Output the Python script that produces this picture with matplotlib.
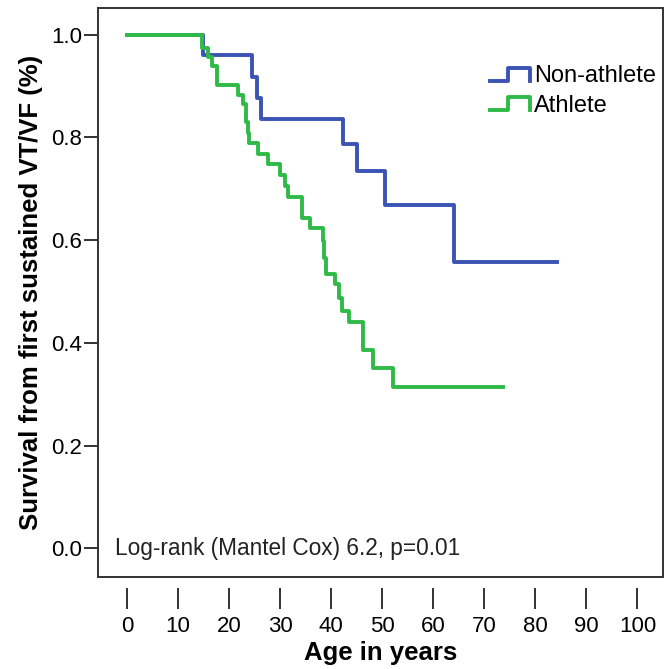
import matplotlib.pyplot as plt
from matplotlib.legend_handler import HandlerBase
from matplotlib.lines import Line2D

plt.rcParams['font.family'] = ['Liberation Sans', 'DejaVu Sans']

# Kaplan-Meier steps (age in years, survival)
nonath_t = [0, 15.0, 24.5, 25.5, 26.3, 42.3, 45.1, 50.6, 64.1, 84.3]
nonath_s = [1.0, 0.961, 0.918, 0.876, 0.836, 0.786, 0.734, 0.668, 0.558, 0.558]

ath_t = [0, 14.7, 15.9, 16.7, 17.6, 21.8, 22.7, 23.3, 23.7, 24.0, 25.7, 27.6,
         30.0, 31.0, 31.6, 34.3, 35.9, 38.4, 38.7, 39.0, 40.8, 41.6, 42.2,
         43.5, 46.3, 48.2, 52.2, 73.7]
ath_s = [1.0, 0.973, 0.957, 0.938, 0.902, 0.883, 0.864, 0.830, 0.808, 0.788,
         0.767, 0.748, 0.727, 0.705, 0.683, 0.643, 0.623, 0.598, 0.566, 0.534,
         0.515, 0.488, 0.462, 0.441, 0.386, 0.350, 0.313, 0.313]

labels = ['Non-athlete', 'Athlete']
colors = ['#3b54b4', '#2fba48']
xticks = list(range(0, 101, 10))
yticks = [0.0, 0.2, 0.4, 0.6, 0.8, 1.0]


class StepHandler(HandlerBase):
    # little step glyph like SPSS legends
    def create_artists(self, legend, orig, xd, yd, w, h, fontsize, trans):
        xs = [xd, xd + 0.45 * w, xd + 0.45 * w, xd + w, xd + w]
        ys = [yd + 0.1 * h, yd + 0.1 * h, yd + 0.9 * h, yd + 0.9 * h, yd + 0.1 * h]
        ln = Line2D(xs, ys, color=orig.get_color(), lw=2.8, transform=trans)
        return [ln]


fig = plt.figure(figsize=(6.65, 6.69), dpi=100)
ax = fig.add_axes([0.147, 0.1375, 0.850, 0.850])

l1, = ax.step(nonath_t, nonath_s, where='post', color=colors[0], lw=2.8)
l2, = ax.step(ath_t, ath_s, where='post', color=colors[1], lw=2.8)

ax.set_xlim(-5.7, 105)
ax.set_ylim(-0.056, 1.051)

for sp in ax.spines.values():
    sp.set_color('#333333')
    sp.set_linewidth(1.4)

ax.set_yticks(yticks)
ax.set_yticklabels(['%.1f' % v for v in yticks])
ax.tick_params(axis='y', length=10, width=1.4, color='#333333', labelsize=16, pad=1)

# x ticks sit a bit below the frame
ax.set_xticks([])
sec = ax.secondary_xaxis(-0.02)
sec.set_xticks(xticks)
sec.spines['bottom'].set_visible(False)
sec.tick_params(axis='x', length=15, width=1.4, color='#333333', labelsize=16, pad=5)

ax.set_ylabel('Survival from first sustained VT/VF (%)', fontsize=18.5,
              fontweight='bold', labelpad=6)
sec.set_xlabel('Age in years', fontsize=18.5, fontweight='bold', labelpad=3)

ax.text(-2.3, 0.0, 'Log-rank (Mantel Cox) 6.2, p=0.01', fontsize=16.3,
        va='center', ha='left', color='#222222')

ax.legend([l1, l2], labels, handler_map={l1: StepHandler(), l2: StepHandler()},
          loc='upper right', bbox_to_anchor=(1.025, 0.937), frameon=False,
          fontsize=17, handlelength=1.7, handletextpad=0.15, labelspacing=0.3)

fig.savefig('out.png', dpi=100)
